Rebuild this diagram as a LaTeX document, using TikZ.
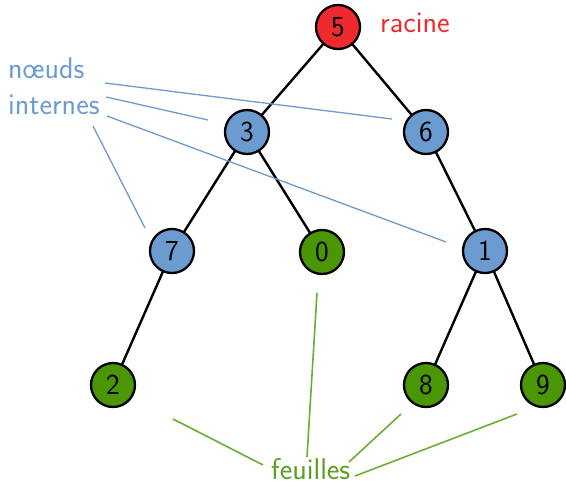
\documentclass[tikz,border=0pt]{standalone}
\usepackage{fontspec}
\renewcommand{\familydefault}{\sfdefault}
\definecolor{rootred}{HTML}{EE2A2E}
\definecolor{innerblue}{HTML}{6C9BCF}
\definecolor{leafgreen}{HTML}{4A9605}
\definecolor{leafline}{HTML}{6AAE33}
\definecolor{leaftext}{HTML}{58A020}
\tikzset{
  tnode/.style={circle, draw=black, line width=2.3pt, minimum size=44pt, inner sep=0pt,
                font=\fontsize{29}{31}\selectfont},
  rootnode/.style={tnode, fill=rootred},
  innernode/.style={tnode, fill=innerblue},
  leafnode/.style={tnode, fill=leafgreen},
  edge/.style={line width=2.4pt, black},
  bluepointer/.style={innerblue, line width=1.3pt},
  greenpointer/.style={leafline, line width=1.6pt},
  lbl/.style={inner sep=0pt, font=\fontsize{30}{33}\selectfont}
}
\begin{document}
\begin{tikzpicture}[x=1pt, y=-1pt]
\useasboundingbox (0,0) rectangle (566,485);
% tree edges
\coordinate (p5) at (338,27);
\coordinate (p3) at (247,132);
\coordinate (p6) at (426,132);
\coordinate (p7) at (172,251);
\coordinate (p0) at (322,252);
\coordinate (p1) at (485,251);
\coordinate (p2) at (113,385);
\coordinate (p8) at (426,385);
\coordinate (p9) at (543,385);
\draw[edge] (p5) -- (p3) (p5) -- (p6) (p3) -- (p7) (p3) -- (p0)
  (p6) -- (p1) (p7) -- (p2) (p1) -- (p8) (p1) -- (p9);
% nodes
\node[rootnode] (n5) at (p5) {5};
\node[innernode] (n3) at (p3) {3};
\node[innernode] (n6) at (p6) {6};
\node[innernode] (n7) at (p7) {7};
\node[leafnode] (n0) at (p0) {0};
\node[innernode] (n1) at (p1) {1};
\node[leafnode] (n2) at (p2) {2};
\node[leafnode] (n8) at (p8) {8};
\node[leafnode] (n9) at (p9) {9};
% labels
\node[lbl, text=rootred, anchor=base west] (racine) at (380,32) {racine};
\node[lbl, text=innerblue, anchor=base west] (noeuds) at (8,78) {nœuds};
\node[lbl, text=innerblue, anchor=base west] (internes) at (8,114) {internes};
\node[lbl, text=leaftext, anchor=base west] (feuilles) at (271,479) {feuilles};
% pointers to inner nodes
\coordinate (b1s) at (105,83);  \coordinate (b1e) at (392,119);
\coordinate (b2s) at (106,97);  \coordinate (b2e) at (208,120);
\coordinate (b3s) at (107,116); \coordinate (b3e) at (446,242);
\coordinate (b4s) at (93,126);  \coordinate (b4e) at (145,228);
\draw[bluepointer] (b1s) -- (b1e) (b2s) -- (b2e) (b3s) -- (b3e) (b4s) -- (b4e);
% pointers to leaves
\coordinate (g1s) at (263,465); \coordinate (g1e) at (173,419);
\coordinate (g2s) at (307,457); \coordinate (g2e) at (317,293);
\coordinate (g3s) at (349,462); \coordinate (g3e) at (401,414);
\coordinate (g4s) at (355,476); \coordinate (g4e) at (517,414);
\draw[greenpointer] (g1s) -- (g1e) (g2s) -- (g2e) (g3s) -- (g3e) (g4s) -- (g4e);
\end{tikzpicture}
\end{document}
